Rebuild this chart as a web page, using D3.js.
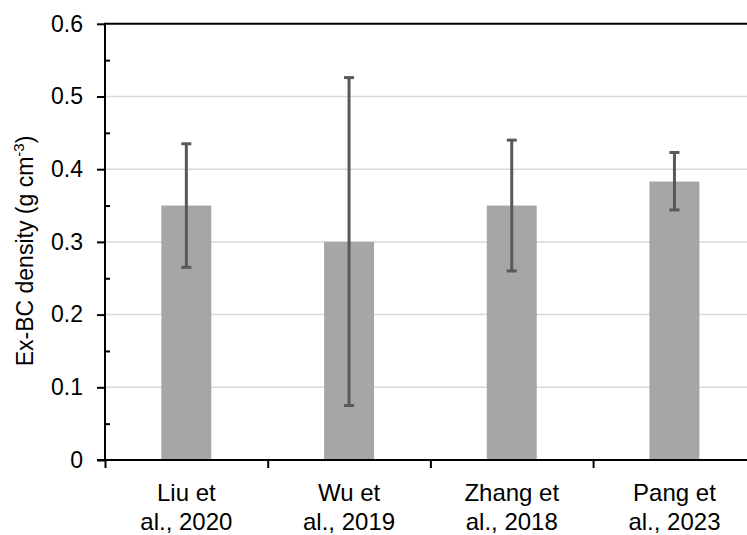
<!DOCTYPE html>
<html>
<meta charset="utf-8">
<style>
  body { margin: 0; background: #fff; }
  svg { display: block; font-family: "Liberation Sans", Arial, sans-serif; }
</style>
<body>
  <svg width="747" height="535"></svg>
</body>
<script src="https://d3js.org/d3.v7.min.js"></script>
<script>

  // data
  var studies = ["Liu et al., 2020", "Wu et al., 2019", "Zhang et al., 2018", "Pang et al., 2023"];
  var labelLines = [["Liu et", "al., 2020"], ["Wu et", "al., 2019"], ["Zhang et", "al., 2018"], ["Pang et", "al., 2023"]];
  var density = [0.35, 0.30, 0.35, 0.383];
  var errHigh = [0.435, 0.526, 0.44, 0.423];
  var errLow = [0.265, 0.075, 0.26, 0.344];
  var yTicks = [0, 0.1, 0.2, 0.3, 0.4, 0.5, 0.6];
  var yMinor = [0.05, 0.15, 0.25, 0.35, 0.45, 0.55];

  var plotLeft = 105, plotRight = 755.8, plotTop = 23.8, plotBottom = 460;

  var svg = d3.select("svg");

  var x = d3.scaleBand().domain(studies).range([plotLeft, plotRight])
    .paddingInner(0.693).paddingOuter(0.3465);
  var xEdge = d3.scaleLinear().domain([0, studies.length]).range([plotLeft, plotRight]);
  var y = d3.scaleLinear().domain([0, 0.6]).range([plotBottom, plotTop]);

  // gridlines (top one is black like the plot border)
  svg.append("g").selectAll("line")
    .data(yTicks.filter(function(d) { return d > 0; }))
    .enter().append("line")
    .attr("x1", plotLeft).attr("x2", plotRight)
    .attr("y1", function(d) { return y(d); })
    .attr("y2", function(d) { return y(d); })
    .attr("stroke", function(d) { return d === 0.6 ? "#000" : "#d9d9d9"; })
    .attr("stroke-width", function(d) { return d === 0.6 ? 2 : 1.5; });

  // bars
  svg.append("g").selectAll("rect")
    .data(studies)
    .enter().append("rect")
    .attr("x", function(d) { return x(d); })
    .attr("width", x.bandwidth())
    .attr("y", function(d, i) { return y(density[i]); })
    .attr("height", function(d, i) { return y(0) - y(density[i]); })
    .attr("fill", "#a6a6a6");

  // error bars
  var err = svg.append("g").attr("stroke", "#595959").attr("stroke-width", 3);
  studies.forEach(function(s, i) {
    var cx = x(s) + x.bandwidth() / 2;
    err.append("line").attr("x1", cx).attr("x2", cx).attr("y1", y(errLow[i])).attr("y2", y(errHigh[i]));
    err.append("line").attr("x1", cx - 5).attr("x2", cx + 5).attr("y1", y(errLow[i])).attr("y2", y(errLow[i]));
    err.append("line").attr("x1", cx - 5).attr("x2", cx + 5).attr("y1", y(errHigh[i])).attr("y2", y(errHigh[i]));
  });

  // y axis
  var yAxis = d3.axisLeft(y).tickValues(yTicks).tickSize(8).tickPadding(14)
    .tickFormat(function(d) { return d === 0 ? "0" : d3.format(".1f")(d); });
  var gy = svg.append("g").attr("transform", "translate(" + plotLeft + ",0)").call(yAxis);
  gy.select(".domain").remove();
  gy.selectAll(".tick line").attr("stroke", "#000").attr("stroke-width", 2);
  gy.selectAll(".tick text").attr("font-size", 23).attr("fill", "#000")
    .attr("font-family", "Liberation Sans, Arial, sans-serif");

  var gyMinor = svg.append("g").attr("transform", "translate(" + plotLeft + ",0)")
    .call(d3.axisLeft(y).tickValues(yMinor).tickSize(-5).tickFormat(""));
  gyMinor.select(".domain").remove();
  gyMinor.selectAll(".tick line").attr("stroke", "#000").attr("stroke-width", 2);

  svg.append("line").attr("x1", plotLeft).attr("x2", plotLeft).attr("y1", y(0.6) - 1).attr("y2", y(0))
    .attr("stroke", "#000").attr("stroke-width", 2);

  // x axis
  var gx = svg.append("g").attr("transform", "translate(0," + plotBottom + ")")
    .call(d3.axisBottom(xEdge).tickValues(d3.range(studies.length + 1)).tickSize(8).tickFormat(""));
  gx.select(".domain").remove();
  gx.selectAll(".tick line").attr("stroke", "#000").attr("stroke-width", 2);
  svg.append("line").attr("x1", plotLeft - 8).attr("x2", plotRight).attr("y1", plotBottom).attr("y2", plotBottom)
    .attr("stroke", "#000").attr("stroke-width", 2);

  // category labels
  svg.append("g").selectAll("text")
    .data(studies)
    .enter().append("text")
    .attr("text-anchor", "middle")
    .attr("font-size", 24)
    .attr("fill", "#000")
    .each(function(d, i) {
      var t = d3.select(this), cx = x(d) + x.bandwidth() / 2;
      labelLines[i].forEach(function(line, j) {
        t.append("tspan").attr("x", cx).attr("y", 501 + j * 29).text(line);
      });
    });

  // y title
  var title = svg.append("text")
    .attr("transform", "translate(33,251) rotate(-90)")
    .attr("text-anchor", "middle")
    .attr("font-size", 23)
    .attr("fill", "#000");
  title.append("tspan").text("Ex-BC density (g cm");
  title.append("tspan").attr("font-size", 15).attr("dy", -9).text("-3");
  title.append("tspan").attr("dy", 9).text(")");

</script>
</html>
